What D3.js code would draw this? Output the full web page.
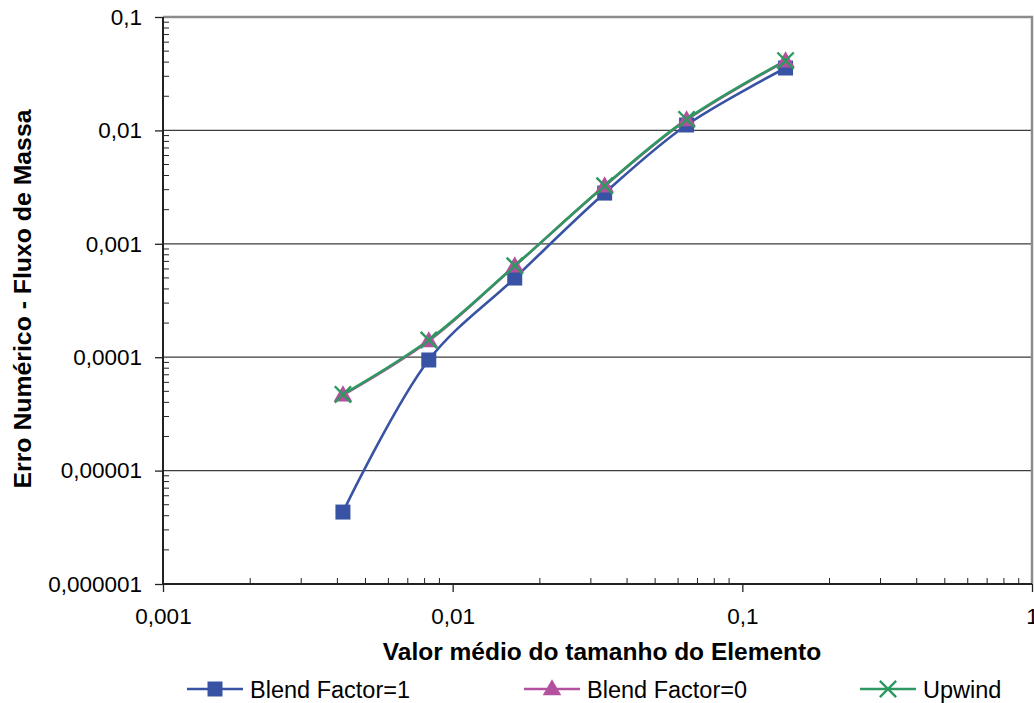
<!DOCTYPE html>
<html lang="en">
  <head>
    <meta charset="UTF-8" />
    <title>Erro Numérico - Fluxo de Massa</title>
    <script src="https://d3js.org/d3.v7.min.js"></script>
    <style>
      body { margin: 0; background: #fff; }
      text { font-family: 'Liberation Sans', Arial, sans-serif; fill: #000; }
    </style>
  </head>
  <body>
    <div id="chart"></div>
    <script>
      // data
      const tamanho = [0.00418, 0.00827, 0.01638, 0.03347, 0.0642, 0.141];
      const blend1 = [4.31e-6, 9.45e-5, 4.99e-4, 2.8e-3, 0.01116, 0.0355];
      const blend0 = [4.64e-5, 1.39e-4, 6.37e-4, 3.23e-3, 0.01236, 0.0409];
      const upwind = [4.7e-5, 1.42e-4, 6.4e-4, 3.25e-3, 0.0125, 0.0412];
      const xTicks = [0.001, 0.01, 0.1, 1];
      const yTicks = [1e-6, 1e-5, 1e-4, 1e-3, 1e-2, 1e-1];
      const xTickLabels = ['0,001', '0,01', '0,1', '1'];
      const yTickLabels = ['0,000001', '0,00001', '0,0001', '0,001', '0,01', '0,1'];
      const seriesNames = ['Blend Factor=1', 'Blend Factor=0', 'Upwind'];

      const W = 1034, H = 703;
      const margin = { top: 17, right: 2, bottom: 119, left: 163 };

      const svg = d3.select('#chart').append('svg')
        .attr('width', W).attr('height', H);

      const x = d3.scaleLog().domain([0.001, 1]).range([margin.left, W - margin.right]);
      const y = d3.scaleLog().domain([1e-6, 0.1]).range([H - margin.bottom, margin.top]);

      const x0 = x.range()[0], x1 = x.range()[1];
      const y0 = y.range()[0], y1 = y.range()[1];

      // gridlines
      svg.append('g').selectAll('line')
        .data(yTicks.slice(1, -1))
        .join('line')
        .attr('x1', x0).attr('x2', x1)
        .attr('y1', d => y(d)).attr('y2', d => y(d))
        .attr('stroke', '#3c3c3c').attr('stroke-width', 1.2);

      // plot border top/right
      svg.append('path')
        .attr('d', `M${x0},${y1}H${x1}V${y0}`)
        .attr('fill', 'none').attr('stroke', '#8c8c8c').attr('stroke-width', 2.5);

      // minor ticks
      const minors = (lo, hi) => {
        const out = [];
        for (let e = lo; e < hi; e++)
          for (let k = 2; k <= 9; k++) out.push(k * Math.pow(10, e));
        return out;
      };
      svg.append('g').selectAll('line')
        .data(minors(-6, -1))
        .join('line')
        .attr('x1', x0).attr('x2', x0 + 6)
        .attr('y1', d => y(d)).attr('y2', d => y(d))
        .attr('stroke', '#222').attr('stroke-width', 1);
      svg.append('g').selectAll('line')
        .data(minors(-3, 0))
        .join('line')
        .attr('x1', d => x(d)).attr('x2', d => x(d))
        .attr('y1', y0).attr('y2', y0 - 6)
        .attr('stroke', '#222').attr('stroke-width', 1);

      // axes
      const yAxis = svg.append('g')
        .attr('transform', `translate(${x0},0)`)
        .call(d3.axisLeft(y).tickValues(yTicks)
          .tickFormat((d, i) => yTickLabels[i]).tickSize(8).tickPadding(13));
      const xAxis = svg.append('g')
        .attr('transform', `translate(0,${y0})`)
        .call(d3.axisBottom(x).tickValues(xTicks)
          .tickFormat((d, i) => xTickLabels[i]).tickSize(8).tickPadding(16));
      [yAxis, xAxis].forEach(a => {
        a.select('.domain').attr('stroke', '#222').attr('stroke-width', 2);
        a.selectAll('.tick line').attr('stroke', '#222').attr('stroke-width', 1.3);
        a.selectAll('.tick text')
          .attr('font-family', "'Liberation Sans', Arial, sans-serif")
          .attr('font-size', 22.5).attr('fill', '#000');
      });
      yAxis.select('.domain').attr('d', `M0,${y0}V${y1}`);
      xAxis.select('.domain').attr('d', `M${x0},0H${x1}`);

      // titles
      svg.append('text')
        .attr('x', 602).attr('y', 660)
        .attr('text-anchor', 'middle')
        .attr('font-size', 24.5).attr('font-weight', 'bold')
        .text('Valor médio do tamanho do Elemento');
      svg.append('text')
        .attr('transform', 'translate(31,299) rotate(-90)')
        .attr('text-anchor', 'middle')
        .attr('font-size', 24.8).attr('font-weight', 'bold')
        .text('Erro Numérico - Fluxo de Massa');

      const colors = ['#3853a4', '#b4519e', '#2d9960'];
      const series = [blend1, blend0, upwind];

      const line = d3.line()
        .x(d => x(d[0])).y(d => y(d[1]))
        .curve(d3.curveCatmullRom.alpha(0.5));

      series.forEach((vals, i) => {
        svg.append('path')
          .datum(tamanho.map((t, j) => [t, vals[j]]))
          .attr('d', line)
          .attr('fill', 'none')
          .attr('stroke', colors[i]).attr('stroke-width', 2.6);
      });

      const square = d3.symbol().type(d3.symbolSquare).size(225);
      const triangle = d3.symbol().type(d3.symbolTriangle).size(150);
      const cross = d3.symbol().type(d3.symbolX).size(175);

      function drawMarker(g, i, cx, cy) {
        if (i === 0) {
          g.append('path').attr('d', square())
            .attr('transform', `translate(${cx},${cy})`)
            .attr('fill', colors[0]);
        } else if (i === 1) {
          g.append('path').attr('d', triangle())
            .attr('transform', `translate(${cx},${cy + 1})`)
            .attr('fill', colors[1]);
        } else {
          g.append('path').attr('d', cross())
            .attr('transform', `translate(${cx},${cy})`)
            .attr('fill', 'none').attr('stroke', colors[2]).attr('stroke-width', 2.4);
        }
      }

      const markers = svg.append('g');
      series.forEach((vals, i) => {
        tamanho.forEach((t, j) => drawMarker(markers, i, x(t), y(vals[j])));
      });

      // legend
      const legendX = [187, 524, 860];
      const legend = svg.append('g');
      seriesNames.forEach((name, i) => {
        const lx = legendX[i], ly = 689;
        legend.append('line')
          .attr('x1', lx).attr('x2', lx + 56)
          .attr('y1', ly).attr('y2', ly)
          .attr('stroke', colors[i]).attr('stroke-width', 2.6);
        drawMarker(legend, i, lx + 28, ly);
        legend.append('text')
          .attr('x', lx + 63).attr('y', ly + 8.5)
          .attr('font-size', 23.5)
          .text(name);
      });
    </script>
  </body>
</html>
